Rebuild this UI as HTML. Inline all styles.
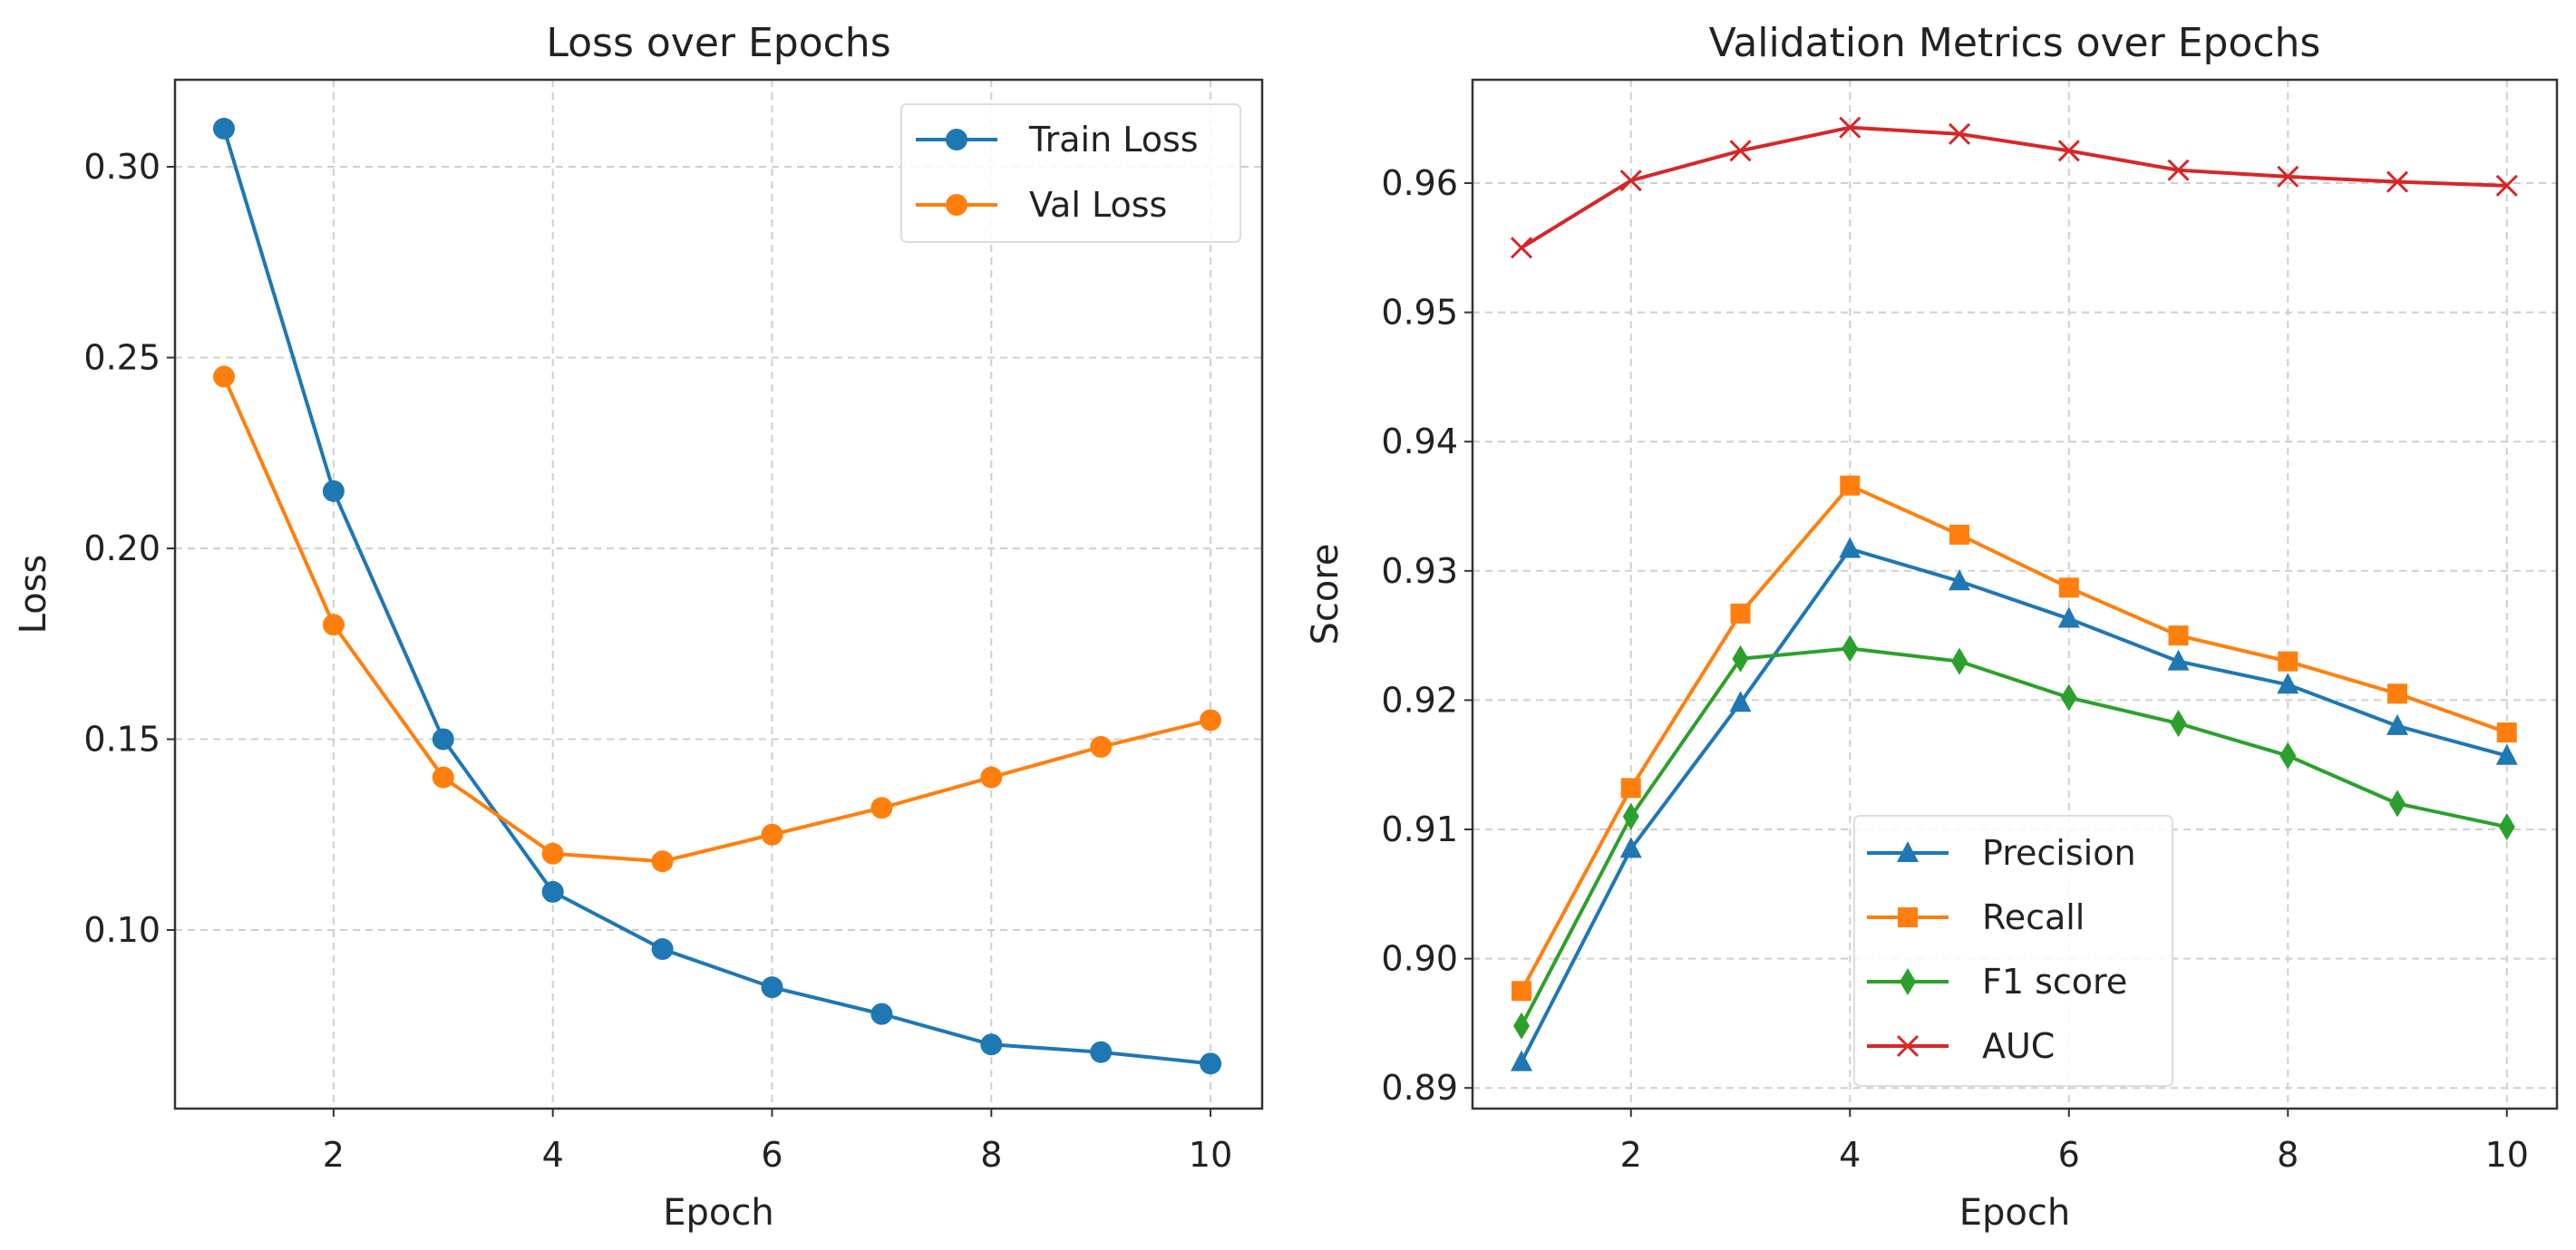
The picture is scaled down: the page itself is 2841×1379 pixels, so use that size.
<!DOCTYPE html>
<html><head><meta charset="utf-8"><style>
html,body{margin:0;padding:0;background:#fff;}
svg{display:block;font-family:"DejaVu Sans","Liberation Sans",sans-serif;}
</style></head><body>
<svg id="fig" width="2841" height="1379" viewBox="0 0 2841 1379" xmlns="http://www.w3.org/2000/svg">
<rect width="2841" height="1379" fill="#fff"/>
</svg>
<script>
const epochs=[1,2,3,4,5,6,7,8,9,10];
const trainLoss=[0.31,0.215,0.15,0.11,0.095,0.085,0.078,0.07,0.068,0.065];
const valLoss=[0.245,0.18,0.14,0.12,0.118,0.125,0.132,0.14,0.148,0.155];
const lossTicks=[0.10,0.15,0.20,0.25,0.30];
const xTicks=[2,4,6,8,10];
const precision=[0.892,0.9085,0.9198,0.9317,0.9292,0.9263,0.923,0.9212,0.918,0.9157];
const recall=[0.8975,0.9132,0.9267,0.9366,0.9328,0.9287,0.925,0.923,0.9205,0.9175];
const f1=[0.8948,0.911,0.9232,0.924,0.923,0.9202,0.9182,0.9157,0.912,0.9102];
const auc=[0.955,0.9602,0.9625,0.9643,0.9638,0.9625,0.961,0.9605,0.9601,0.9598];
const scoreTicks=[0.89,0.90,0.91,0.92,0.93,0.94,0.95,0.96];

const NS="http://www.w3.org/2000/svg";
const svg=document.getElementById('fig');
function el(tag,attrs,parent){const e=document.createElementNS(NS,tag);for(const k in attrs)e.setAttribute(k,attrs[k]);(parent||svg).appendChild(e);return e;}

function panel(o){
  const g=el('g',{});
  
  
  const X=v=>o.x1+(v-1)*o.dx;
  const Y=v=>o.yRef+(o.vRef-v)*o.dy;
  // grid
  xTicks.forEach(t=>{const l=el('line',{x1:X(t),x2:X(t),y1:o.top,y2:o.bot,stroke:'#cfcfcf','stroke-width':2,'stroke-dasharray':'8,6'},g);
    });
  o.yTicks.forEach(t=>{const l=el('line',{x1:o.left,x2:o.right,y1:Y(t),y2:Y(t),stroke:'#cfcfcf','stroke-width':2,'stroke-dasharray':'8,6'},g);
    });
  // ticks and labels
  xTicks.forEach(t=>{
    el('line',{x1:X(t),x2:X(t),y1:o.bot,y2:o.bot+9,stroke:'#333','stroke-width':2},g);
    const tx=el('text',{x:X(t),y:1287,'font-size':38,'text-anchor':'middle',fill:'#222'},g);tx.textContent=t;
    
  });
  o.yTicks.forEach(t=>{
    el('line',{x1:o.left-9,x2:o.left,y1:Y(t),y2:Y(t),stroke:'#333','stroke-width':2},g);
    const tx=el('text',{x:o.left-16,y:Y(t)+13,'font-size':38,'text-anchor':'end',fill:'#222'},g);tx.textContent=t.toFixed(o.dec);
    
  });
  // series
  o.series.forEach(s=>{
    const sg=el('g',{},g);
    
    el('polyline',{points:s.data.map((v,i)=>X(epochs[i])+','+Y(v)).join(' '),fill:'none',stroke:s.color,'stroke-width':4,'stroke-linejoin':'round'},sg);
    s.data.forEach((v,i)=>{const m=marker(s.marker,X(epochs[i]),Y(v),s.color,sg);});
  });
  // frame
  el('rect',{x:o.left,y:o.top,width:o.right-o.left,height:o.bot-o.top,fill:'none',stroke:'#333','stroke-width':2.5},g);
  const ti=el('text',{x:(o.left+o.right)/2,y:62,'font-size':44,'text-anchor':'middle',fill:'#222'},g);ti.textContent=o.title;
  
  const xl=el('text',{x:(o.left+o.right)/2,y:1351,'font-size':40,'text-anchor':'middle',fill:'#222'},g);xl.textContent='Epoch';
  
  const yl=el('text',{x:o.ylx,y:(o.top+o.bot)/2,'font-size':40,'text-anchor':'middle',fill:'#222',transform:`rotate(-90 ${o.ylx} ${(o.top+o.bot)/2})`},g);yl.textContent=o.ylabel;
  
  // legend
  const L=o.legend;
  const lg=el('g',{},g);
  el('rect',{x:L.x,y:L.y,width:L.w,height:L.h,rx:6,fill:'#fff','fill-opacity':0.85,stroke:'#ddd','stroke-width':2},lg);
  o.series.forEach((s,i)=>{
    const cy=L.first+i*L.step;
    const eg=el('g',{},lg);
    el('line',{x1:L.lx,x2:L.lx+90,y1:cy,y2:cy,stroke:s.color,'stroke-width':4},eg);
    marker(s.marker,L.lx+45,cy,s.color,eg);
    const t=el('text',{x:L.tx,y:cy+13,'font-size':38,fill:'#222'},eg);t.textContent=s.label;
  });
}
function marker(type,x,y,c,p){
  if(type==='o')return el('circle',{cx:x,cy:y,r:12,fill:c},p);
  if(type==='^')return el('polygon',{points:`${x},${y-13} ${x-12},${y+10} ${x+12},${y+10}`,fill:c},p);
  if(type==='s')return el('rect',{x:x-11,y:y-11,width:22,height:22,fill:c},p);
  if(type==='d')return el('polygon',{points:`${x},${y-15} ${x+9},${y} ${x},${y+15} ${x-9},${y}`,fill:c},p);
  if(type==='x')return el('path',{d:`M${x-11},${y-11}L${x+11},${y+11}M${x-11},${y+11}L${x+11},${y-11}`,stroke:c,'stroke-width':3,fill:'none'},p);
}
panel({name:'loss-chart',left:193,right:1392,top:88,bot:1223,x1:247,dx:120.9,yRef:184,vRef:0.30,dy:210.5/0.05,
  yTicks:lossTicks,dec:2,title:'Loss over Epochs',ylabel:'Loss',ylx:50,
  series:[{name:'train-loss-line',label:'Train Loss',data:trainLoss,color:'#1f77b4',marker:'o'},
          {name:'val-loss-line',label:'Val Loss',data:valLoss,color:'#ff7f0e',marker:'o'}],
  legend:{x:994,y:115,w:374,h:152,first:154,step:72,lx:1010,tx:1135}});
panel({name:'metrics-chart',left:1624,right:2820,top:88,bot:1223,x1:1678,dx:120.75,yRef:202,vRef:0.96,dy:142.6/0.01,
  yTicks:scoreTicks,dec:2,title:'Validation Metrics over Epochs',ylabel:'Score',ylx:1475,
  series:[{name:'precision-line',label:'Precision',data:precision,color:'#1f77b4',marker:'^'},
          {name:'recall-line',label:'Recall',data:recall,color:'#ff7f0e',marker:'s'},
          {name:'f1-line',label:'F1  score',data:f1,color:'#2ca02c',marker:'d'},
          {name:'auc-line',label:'AUC',data:auc,color:'#d62728',marker:'x'}],
  legend:{x:2045,y:900,w:351,h:298,first:941,step:71,lx:2059,tx:2186}});
</script>
</body></html>
